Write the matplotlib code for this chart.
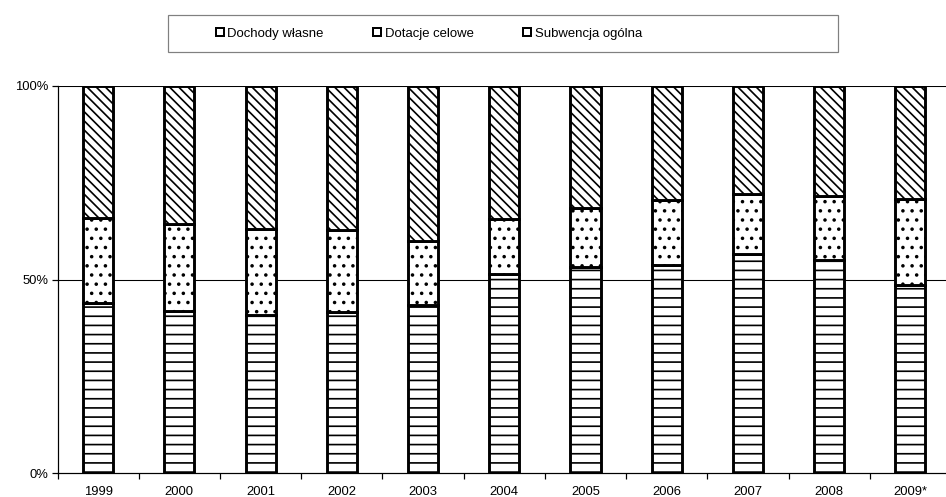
import matplotlib
matplotlib.use("Agg")
import matplotlib.pyplot as plt
from matplotlib.patches import Patch, Rectangle
import numpy as np

years = ["1999", "2000", "2001", "2002", "2003", "2004", "2005", "2006", "2007", "2008", "2009*"]
dochody_wlasne = [43.8, 41.9, 40.8, 41.7, 43.4, 51.3, 53.3, 53.7, 56.5, 55.0, 48.6]
dotacje_celowe = [22.1, 22.5, 22.2, 21.1, 16.5, 14.4, 15.3, 16.8, 15.6, 16.7, 22.1]
subwencja_ogolna = [34.1, 35.6, 37.0, 37.2, 40.1, 34.3, 31.4, 29.5, 27.9, 28.3, 29.3]
series_names = ["Dochody własne", "Dotacje celowe", "Subwencja ogólna"]
y_ticks = [0, 50, 100]
y_tick_labels = ["0%", "50%", "100%"]

plt.rcParams["font.family"] = ["Liberation Sans", "DejaVu Sans"]
plt.rcParams["hatch.linewidth"] = 1.1
plt.rcParams["hatch.color"] = "black"

DPI = 110
W, H = 946, 497
fig = plt.figure(figsize=(W / DPI, H / DPI), dpi=DPI)

x0, x1 = 57.5, 951.0
yb, yt = 473.0, 86.0
ax = fig.add_axes([x0 / W, (H - yb) / H, (x1 - x0) / W, (yb - yt) / H])

x = np.arange(len(years))
own = np.array(dochody_wlasne)
targ = np.array(dotacje_celowe)
gen = np.array(subwencja_ogolna)

bw = 0.37
lw = 1.9
hatches = ["--", "..", "\\\\\\\\"]
bottoms = [np.zeros_like(own), own, own + targ]
for vals, bot, h, name in zip([own, targ, gen], bottoms, hatches, series_names):
    ax.bar(x, vals, bw, bottom=bot, facecolor="white", edgecolor="black",
           hatch=h, linewidth=lw, label=name, zorder=3)

ax.set_xlim(-0.5, len(years) - 0.5)
ax.set_ylim(0, 100)
ax.set_yticks(y_ticks)
ax.set_yticklabels(y_tick_labels)
ax.set_xticks(x)
ax.set_xticklabels(years)
ax.set_xticks(np.arange(-0.5, len(years), 1.0), minor=True)
ax.tick_params(axis="x", which="major", length=0, pad=8.5, labelsize=8.5)
ax.tick_params(axis="x", which="minor", length=4, width=0.8, direction="out")
ax.tick_params(axis="y", length=4, width=0.8, pad=2, labelsize=8.5, direction="out")

for yv in [50, 100]:
    ax.axhline(yv, color="black", linewidth=0.7, zorder=1)

for s in ["top", "right"]:
    ax.spines[s].set_visible(False)
for s in ["left", "bottom"]:
    ax.spines[s].set_linewidth(0.8)

# legend frame
fig.patches.append(Rectangle((168 / W, 1 - 52 / H), (838 - 168) / W, (52 - 15) / H,
                             transform=fig.transFigure, facecolor="white",
                             edgecolor="#808080", linewidth=0.8, zorder=0))

handles = [Patch(facecolor="white", edgecolor="black", hatch=h, linewidth=1.3)
           for h in ["", ".", "\\"]]
fig.legend(handles, series_names, loc="center left",
           bbox_to_anchor=(216 / W, 1 - 33.5 / H), bbox_transform=fig.transFigure,
           ncol=3, frameon=False, fontsize=8.6, handlelength=0.6, handleheight=0.6,
           handletextpad=0.25, columnspacing=3.8, borderpad=0, borderaxespad=0)

fig.savefig("out.png", dpi=DPI)
